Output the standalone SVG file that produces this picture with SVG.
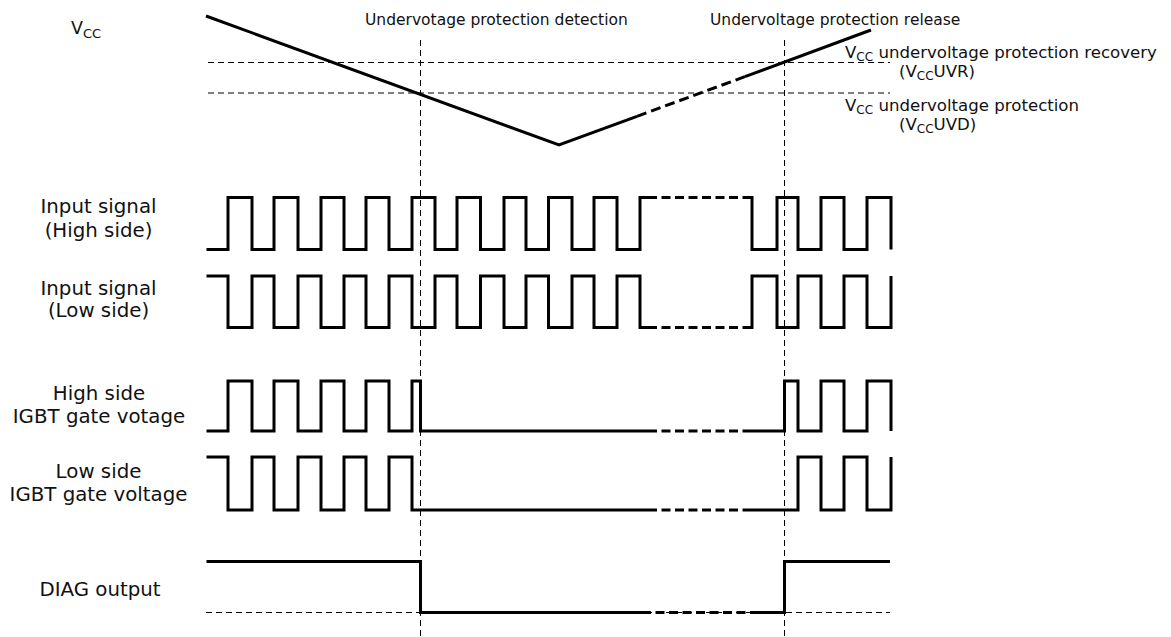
<svg xmlns="http://www.w3.org/2000/svg" width="1171" height="637" viewBox="0 0 1171 637">
<style>
.bg{fill:#fff}
.w{fill:none;stroke:#000;stroke-width:3;stroke-linejoin:miter;stroke-linecap:butt}
.wd{fill:none;stroke:#000;stroke-width:3;stroke-dasharray:9 4.5}
.ref{fill:none;stroke:#000;stroke-width:1;stroke-dasharray:6 4}
.lbl{font-family:"DejaVu Sans",Verdana,sans-serif;font-size:19.8px;fill:#111;text-anchor:middle}
.top{font-family:"DejaVu Sans",Verdana,sans-serif;font-size:15.5px;fill:#111}
.rt{font-family:"DejaVu Sans",Verdana,sans-serif;font-size:16.6px;fill:#111}
.sub{font-size:12px}
</style>
<rect class="bg" x="0" y="0" width="1171" height="637"/>

<g id="reference-lines">
<path class="ref" d="M208,62.5 H890"/>
<path class="ref" d="M208,93 H890"/>
<path class="ref" d="M206,612.5 H890"/>
<path class="ref" d="M420.5,40 V637"/>
<path class="ref" d="M784.5,40 V637"/>
</g>

<g id="vcc-waveform">
<path class="w" d="M206,16 L559,145 L637,116.3"/>
<path class="wd" style="stroke-dasharray:10 5" d="M637,116.3 L745,76.6"/>
<path class="w" d="M745,76.6 L871,30"/>
</g>

<g id="input-high">
<path class="w" d="M206.5,249.5 H228 V197.5 H252 V249.5 H274 V197.5 H298 V249.5 H321 V197.5 H344 V249.5 H366 V197.5 H389 V249.5 H412 V197.5 H435 V249.5 H457 V197.5 H480.5 V249.5 H504 V197.5 H526 V249.5 H548.5 V197.5 H572 V249.5 H594 V197.5 H617 V249.5 H640 V197.5 H648"/>
<path class="wd" d="M648,197.5 H743"/>
<path class="w" d="M743,197.5 H752 V249.5 H777 V197.5 H798 V249.5 H821 V197.5 H844 V249.5 H867 V197.5 H891 V249.5"/>
</g>

<g id="input-low">
<path class="w" d="M206.5,276 H228 V327.5 H252 V276 H274 V327.5 H298 V276 H321 V327.5 H344 V276 H366 V327.5 H389 V276 H412 V327.5 H435 V276 H457 V327.5 H480.5 V276 H504 V327.5 H526 V276 H548.5 V327.5 H572 V276 H594 V327.5 H617 V276 H640 V327.5 H648"/>
<path class="wd" d="M648,327.5 H743"/>
<path class="w" d="M743,327.5 H752 V276 H777 V327.5 H798 V276 H821 V327.5 H844 V276 H867 V327.5 H891 V276"/>
</g>

<g id="gate-high">
<path class="w" d="M206.5,431 H228 V381 H252 V431 H274 V381 H298 V431 H321 V381 H344 V431 H366 V381 H389 V431 H412 V381 H420.5 V431 H648"/>
<path class="wd" d="M648,431 H743"/>
<path class="w" d="M743,431 H784.5 V381 H798 V431 H821 V381 H844 V431 H867 V381 H891 V431"/>
</g>

<g id="gate-low">
<path class="w" d="M206.5,457 H228 V510 H252 V457 H274 V510 H298 V457 H321 V510 H344 V457 H366 V510 H389 V457 H412 V510 H648"/>
<path class="wd" d="M648,510 H750"/>
<path class="w" d="M750,510 H798 V457 H821 V510 H844 V457 H867 V510 H891 V457"/>
</g>

<g id="diag-output">
<path class="w" d="M206.5,561.5 H420.5 V612.5 H642"/>
<path class="wd" d="M642,612.5 H752"/>
<path class="w" d="M752,612.5 H784.5 V561.5 H890"/>
</g>

<g id="labels-left">
<text class="lbl" x="71" y="34" style="text-anchor:start;font-size:17.5px">V<tspan class="sub" style="font-size:13px" dy="4">CC</tspan></text>
<text class="lbl" x="98.5" y="213.3">Input signal</text>
<text class="lbl" x="98.5" y="236.7">(High side)</text>
<text class="lbl" x="98.5" y="295">Input signal</text>
<text class="lbl" x="98.5" y="317.3">(Low side)</text>
<text class="lbl" x="99" y="400">High side</text>
<text class="lbl" x="99" y="422.5">IGBT gate votage</text>
<text class="lbl" x="98.5" y="477.7">Low side</text>
<text class="lbl" x="98.5" y="500.7">IGBT gate voltage</text>
<text class="lbl" x="100" y="596">DIAG output</text>
</g>

<g id="labels-top">
<text class="top" x="365" y="25">Undervotage protection detection</text>
<text class="top" x="710" y="24.5">Undervoltage protection release</text>
</g>

<g id="labels-right">
<text class="rt" x="845" y="58">V<tspan class="sub" dy="3">CC</tspan><tspan dy="-3"> undervoltage protection recovery</tspan></text>
<text class="rt" x="899" y="77">(V<tspan class="sub" dy="3">CC</tspan><tspan dy="-3">UVR)</tspan></text>
<text class="rt" x="845" y="111">V<tspan class="sub" dy="3">CC</tspan><tspan dy="-3"> undervoltage protection</tspan></text>
<text class="rt" x="899" y="130">(V<tspan class="sub" dy="3">CC</tspan><tspan dy="-3">UVD)</tspan></text>
</g>
</svg>
